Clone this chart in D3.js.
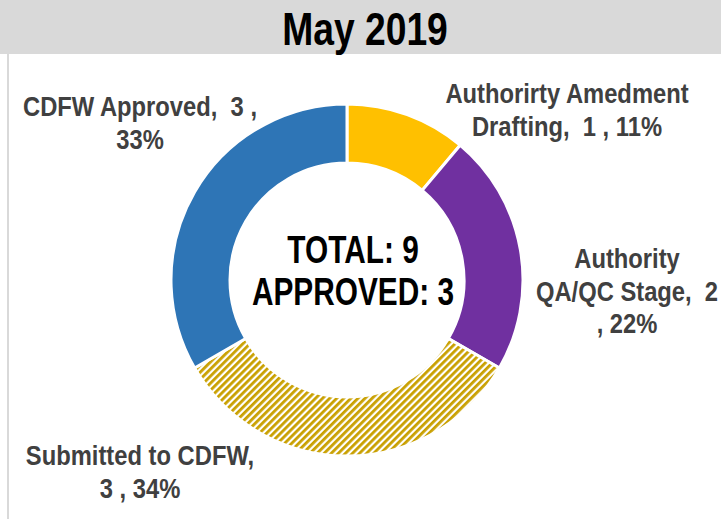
<!DOCTYPE html>
<html>
<head>
<meta charset="utf-8">
<script src="https://cdn.jsdelivr.net/npm/d3@7"></script>
<style>
  body { margin: 0; background: #fff; }
  text { font-family: "Liberation Sans Narrow", "Arial Narrow", "Liberation Sans", sans-serif; font-weight: bold; }
</style>
</head>
<body>
<div id="chart"></div>
<script>
// chart data
const categories = ["Authorirty Amedment Drafting", "Authority QA/QC Stage", "Submitted to CDFW", "CDFW Approved"];
const values = [1, 2, 3, 3];
const percentLabels = ["11%", "22%", "34%", "33%"];
const labelLines = [
  ["Authorirty Amedment", "Drafting,  1 , 11%"],
  ["Authority", "QA/QC Stage,  2", ", 22%"],
  ["Submitted to CDFW,", "3 , 34%"],
  ["CDFW Approved,  3 ,", "33%"]
];
const colors = ["#FFC000", "#7030A0", "url(#hatch)", "#2E75B6"];
const title = "May 2019";
const centerLines = ["TOTAL: 9", "APPROVED: 3"];

const width = 721, height = 519;
const cx = 347, cy = 280;
const outerR = 176, innerR = 117;
const narrow = 0.82; // squeeze text, no narrow font installed

const svg = d3.select("#chart")
  .append("svg")
  .attr("width", width)
  .attr("height", height);

// hatch pattern for the submitted slice
const pattern = svg.append("defs")
  .append("pattern")
  .attr("id", "hatch")
  .attr("patternUnits", "userSpaceOnUse")
  .attr("width", 5)
  .attr("height", 5)
  .attr("patternTransform", "rotate(45)");
pattern.append("rect").attr("width", 5).attr("height", 5).attr("fill", "#fff");
pattern.append("rect").attr("width", 2.8).attr("height", 5).attr("fill", "#C9A000");

// helper: squeezed text line
function line(parent, x, y, size, sx, color, str) {
  return parent.append("text")
    .attr("transform", "translate(" + x + "," + y + ") scale(" + sx + ",1)")
    .attr("text-anchor", "middle")
    .attr("xml:space", "preserve")
    .style("font-size", size + "px")
    .attr("fill", color)
    .text(str);
}

// title band
svg.append("rect")
  .attr("x", 0).attr("y", 0)
  .attr("width", width).attr("height", 54)
  .attr("fill", "#D9D9D9");
svg.append("rect")
  .attr("x", 7).attr("y", 54)
  .attr("width", 2).attr("height", height - 54)
  .attr("fill", "#D9D9D9");
line(svg, 365, 45, 46, 0.81, "#000", title);

// donut
const pie = d3.pie().sort(null).value(d => d);
const arc = d3.arc().innerRadius(innerR).outerRadius(outerR);

const g = svg.append("g").attr("transform", "translate(" + cx + "," + cy + ")");
g.selectAll("path")
  .data(pie(values))
  .join("path")
  .attr("d", arc)
  .attr("fill", (d, i) => colors[i])
  .attr("stroke", "#fff")
  .attr("stroke-width", 3);

// center text
centerLines.forEach((d, i) => {
  line(g, 6, -17 + i * 42, 38, 0.785, "#000", d);
});

// data labels
const labelPos = [
  { x: 567, y: 103 },
  { x: 627, y: 268 },
  { x: 140, y: 465 },
  { x: 140, y: 116 }
];
const lineH = 32.5;
labelLines.forEach((lines, i) => {
  lines.forEach((l, j) => {
    line(svg, labelPos[i].x, labelPos[i].y + j * lineH, 27, 0.88, "#404040", l);
  });
});
</script>
</body>
</html>
